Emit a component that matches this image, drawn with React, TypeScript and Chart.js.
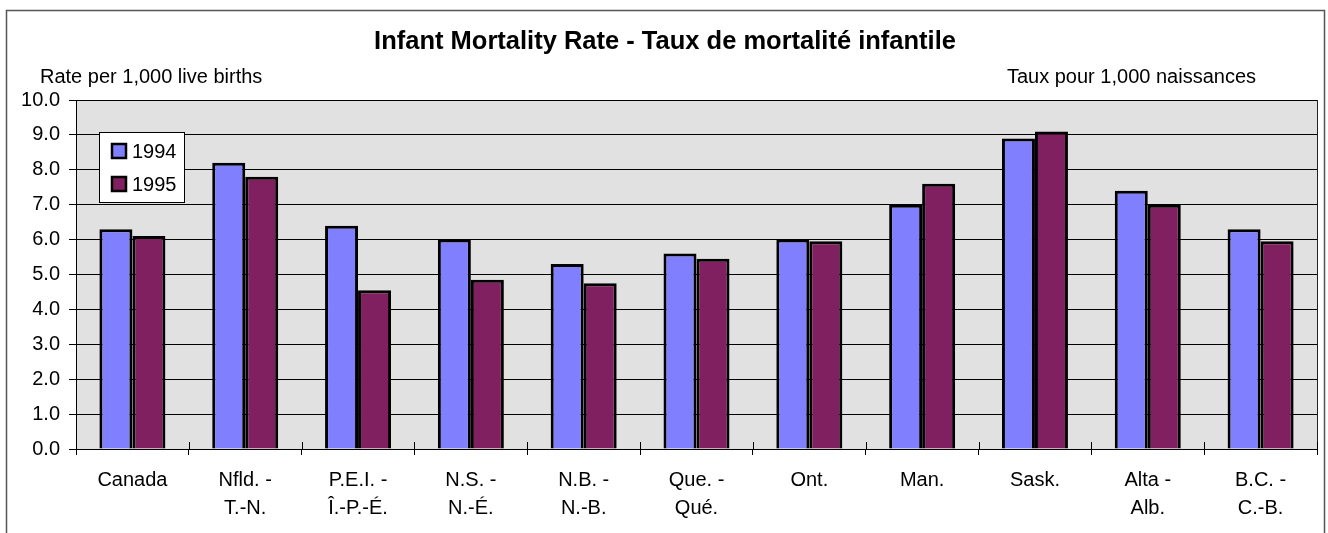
import React, { useEffect, useRef } from "react";
import { Chart, registerables } from "chart.js";

Chart.register(...registerables);

const categories: (string | string[])[] = [
  "Canada",
  ["Nfld. -", "T.-N."],
  ["P.E.I. -", "Î.-P.-É."],
  ["N.S. -", "N.-É."],
  ["N.B. -", "N.-B."],
  ["Que. -", "Qué."],
  "Ont.",
  "Man.",
  "Sask.",
  ["Alta -", "Alb."],
  ["B.C. -", "C.-B."],
];

const seriesNames = ["1994", "1995"];
const values1994 = [6.3, 8.2, 6.4, 6.0, 5.3, 5.6, 6.0, 7.0, 8.9, 7.4, 6.3];
const values1995 = [6.1, 7.8, 4.55, 4.85, 4.75, 5.45, 5.95, 7.6, 9.1, 7.0, 5.95];

const titleText = "Infant Mortality Rate - Taux de mortalité infantile";
const leftUnit = "Rate per 1,000 live births";
const rightUnit = "Taux pour 1,000 naissances";

const FONT = "'Liberation Sans', Arial, Helvetica, sans-serif";

const decorPlugin = {
  id: "decor",
  beforeDraw(chart: any) {
    const { ctx, chartArea } = chart;
    ctx.save();
    ctx.fillStyle = "#ffffff";
    ctx.fillRect(0, 0, chart.width, chart.height);
    ctx.strokeStyle = "#555555";
    ctx.lineWidth = 1.5;
    ctx.strokeRect(6.5, 10.5, 1318, 600);
    ctx.fillStyle = "#E1E1E1";
    ctx.fillRect(chartArea.left, chartArea.top, chartArea.right - chartArea.left, chartArea.bottom - chartArea.top);
    ctx.fillStyle = "#000";
    ctx.textBaseline = "middle";
    ctx.textAlign = "center";
    ctx.font = `bold 25.5px ${FONT}`;
    ctx.fillText(titleText, 665, 42);
    ctx.font = `20px ${FONT}`;
    ctx.textAlign = "left";
    ctx.fillText(leftUnit, 40, 77);
    ctx.textAlign = "right";
    ctx.fillText(rightUnit, 1256, 77);
    ctx.restore();
  },
  afterDraw(chart: any) {
    const { ctx, chartArea } = chart;
    ctx.save();
    ctx.strokeStyle = "#222";
    ctx.lineWidth = 1;
    ctx.beginPath();
    ctx.moveTo(Math.round(chartArea.right) + 0.5, chartArea.top);
    ctx.lineTo(Math.round(chartArea.right) + 0.5, chartArea.bottom);
    ctx.stroke();
    const n = chart.data.labels.length;
    const w = (chartArea.right - chartArea.left) / n;
    ctx.strokeStyle = "#000";
    ctx.beginPath();
    for (let i = 1; i <= n; i++) {
      const x = Math.round(chartArea.left + i * w) + 0.5;
      ctx.moveTo(x, chartArea.bottom - 7);
      ctx.lineTo(x, chartArea.bottom);
    }
    ctx.stroke();
    const bx = 99, by = 132, bw = 85, bh = 70;
    ctx.fillStyle = "#fff";
    ctx.fillRect(bx, by, bw, bh);
    ctx.strokeStyle = "#000";
    ctx.lineWidth = 1;
    ctx.strokeRect(bx + 0.5, by + 0.5, bw, bh);
    ctx.font = `20px ${FONT}`;
    ctx.textAlign = "left";
    ctx.textBaseline = "middle";
    chart.data.datasets.forEach((ds: any, i: number) => {
      const cy = 151 + i * 33;
      ctx.fillStyle = ds.backgroundColor;
      ctx.fillRect(112, cy - 7, 14, 14);
      ctx.lineWidth = 2.5;
      ctx.strokeStyle = "#000";
      ctx.strokeRect(112, cy - 7, 14, 14);
      ctx.fillStyle = "#000";
      ctx.fillText(ds.label, 132, cy + 1);
    });
    ctx.restore();
  },
};

export default function App() {
  const ref = useRef<HTMLCanvasElement | null>(null);
  useEffect(() => {
    if (!ref.current) return;
    const chart = new Chart(ref.current, {
      type: "bar",
      data: {
        labels: categories,
        datasets: [
          {
            label: seriesNames[0],
            data: values1994,
            backgroundColor: "#8080FF",
            borderColor: "#000000",
            borderWidth: 3,
            categoryPercentage: 0.585,
            barPercentage: 1.0,
          },
          {
            label: seriesNames[1],
            data: values1995,
            backgroundColor: "#802060",
            borderColor: "#000000",
            borderWidth: 3,
            categoryPercentage: 0.585,
            barPercentage: 1.0,
          },
        ],
      },
      options: {
        responsive: false,
        animation: false,
        devicePixelRatio: 1,
        layout: { padding: { left: 0, right: 11, top: 100, bottom: 0 } },
        plugins: {
          legend: { display: false },
          tooltip: { enabled: false },
          title: { display: false },
        },
        scales: {
          x: {
            offset: true,
            grid: {
              offset: true,
              drawOnChartArea: false,
              drawTicks: true,
              tickLength: 6,
              color: "#000",
            },
            border: { display: true, color: "#000", width: 1 },
            ticks: {
              color: "#000",
              font: { family: FONT, size: 20, lineHeight: 1.4 },
              padding: 11,
              maxRotation: 0,
              autoSkip: false,
            },
            afterFit: (scale: any) => {
              scale.height = 84;
            },
          },
          y: {
            min: 0,
            max: 10,
            grid: {
              color: "#000",
              lineWidth: 1,
              drawTicks: true,
              tickLength: 7,
            },
            border: { display: true, color: "#000", width: 1 },
            ticks: {
              stepSize: 1,
              color: "#000",
              padding: 9,
              font: { family: FONT, size: 20 },
              callback: (v: any) => Number(v).toFixed(1),
            },
            afterFit: (scale: any) => {
              scale.width = 76;
            },
          },
        },
      },
      plugins: [decorPlugin],
    });
    return () => chart.destroy();
  }, []);
  return (
    <div style={{ position: "absolute", left: 0, top: 0, width: 1328, height: 533 }}>
      <canvas ref={ref} width={1328} height={533} style={{ display: "block" }} />
    </div>
  );
}
